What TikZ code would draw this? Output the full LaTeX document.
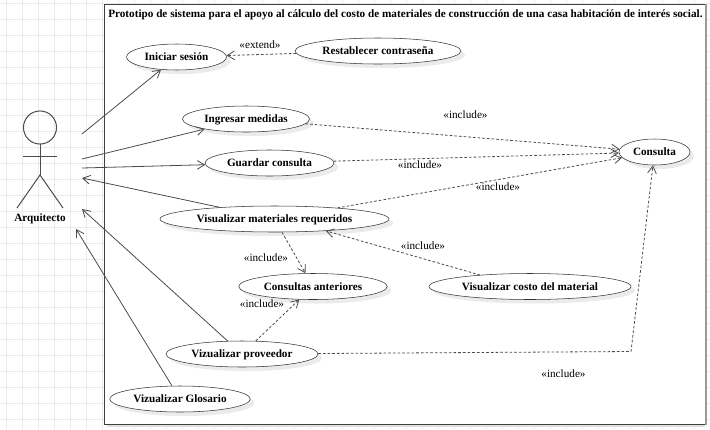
\documentclass[tikz,border=0pt]{standalone}
\usepackage{fontspec}
\setmainfont{Liberation Serif}
\usetikzlibrary{shapes.geometric,shadows,arrows.meta}
\begin{document}
\begin{tikzpicture}[x=0.75pt,y=-0.75pt,>={Straight Barb[length=5.5pt,width=6.5pt]}]
    \tikzstyle{usecase} = [draw=black!80,ellipse,fill=white,inner sep=0pt,minimum height=19.5pt,text height=6.5pt,text depth=1pt,font=\fontsize{8.4}{10}\selectfont\bfseries,drop shadow={shadow xshift=3pt,shadow yshift=-3pt,fill=black!8,opacity=1}]
    \tikzstyle{stereo} = [inner sep=0pt,font=\fontsize{8.4}{10}\selectfont]
    \tikzstyle{assoc} = [draw=black!70,line width=0.6pt,->]
    \tikzstyle{depend} = [draw=black!70,line width=0.6pt,dash pattern=on 2pt off 1.5pt,->]
        \useasboundingbox (0,0) rectangle (710,429);
        \fill[white] (0,0) rectangle (710,429);
        \foreach \gx in {6.5,22.5,...,710} {\draw[black!8,line width=0.75pt] (\gx,0) -- (\gx,429);}
        \foreach \gy in {3,19,...,429} {\draw[black!8,line width=0.75pt] (0,\gy) -- (710,\gy);}
        \fill[black!12] (107,424) rectangle (705,426.5);
        \draw[white,fill=white] (104.5,4.5) rectangle (705,424);
        \draw[black!75,line width=0.75pt] (705,424) -- (104.5,424) -- (104.5,4.5) -- (705,4.5);
        \draw[black!40,line width=1.5pt] (705.5,4) -- (705.5,424.5);
        \node[inner sep=0pt,anchor=west,font=\fontsize{8.4}{10}\selectfont\bfseries] (title) at (108,14.5) {Prototipo de sistema para el apoyo al cálculo del costo de materiales de construcción de una casa habitación de interés social.};
        \draw[black!70,line width=0.75pt] (40,127.5) circle (12.4pt);
        \draw[black!70,line width=0.75pt] (40,144) -- (40,175);
        \draw[black!70,line width=0.75pt] (23,156) -- (57,156);
        \draw[black!70,line width=0.75pt] (17,208) -- (40,175) -- (63,208);
        \node[inner sep=0pt,font=\fontsize{8.4}{10}\selectfont\bfseries] (arquitecto) at (40,219) {Arquitecto};
        \coordinate (a1) at (82,134);
        \coordinate (a2) at (82,159);
        \coordinate (a3) at (82,168);
        \coordinate (a4) at (82,178);
        \coordinate (a5) at (82,209);
        \coordinate (a6) at (76,229);
        \coordinate (bend) at (631,351.5);
        \node[usecase,minimum width=75pt] (iniciar) at (176.5,57) {Iniciar sesión};
        \node[usecase,minimum width=124.5pt] (restablecer) at (378,51) {Restablecer contraseña};
        \node[usecase,minimum width=95.25pt] (ingresar) at (246,119) {Ingresar medidas};
        \node[usecase,minimum width=96.75pt] (guardar) at (269.5,163) {Guardar consulta};
        \node[usecase,minimum width=171.75pt] (materiales) at (274.5,219) {Visualizar materiales requeridos};
        \node[usecase,minimum width=111.4pt] (anteriores) at (313,286.5) {Consultas anteriores};
        \node[usecase,minimum width=151.5pt] (costo) at (530,286.5) {Visualizar costo del material};
        \node[usecase,minimum width=114pt] (proveedor) at (242,354) {Vizualizar proveedor};
        \node[usecase,minimum width=105.4pt] (glosario) at (180,399) {Vizualizar Glosario};
        \node[usecase,minimum width=53.25pt] (consulta) at (654.5,152) {Consulta};
        \draw[assoc] (a1) -- (iniciar);
        \draw[assoc] (a2) -- (ingresar);
        \draw[assoc] (a3) -- (guardar);
        \draw[assoc] (materiales) -- (a4);
        \draw[assoc] (proveedor) -- (a5);
        \draw[assoc] (glosario) -- (a6);
        \draw[depend] (restablecer) -- (iniciar);
        \draw[depend] (ingresar) -- (consulta);
        \draw[depend] (guardar) -- (consulta);
        \draw[depend] (materiales) -- (consulta);
        \draw[depend] (materiales) -- (anteriores);
        \draw[depend] (proveedor) -- (anteriores);
        \draw[depend] (costo.167) -- (materiales.-13);
        \draw[depend] (proveedor) -- (bend) -- (consulta);
        \node[stereo] (extend1) at (260,44.5) {«extend»};
        \node[stereo] (include1) at (465.5,115) {«include»};
        \node[stereo] (include2) at (420,164.5) {«include»};
        \node[stereo] (include3) at (498,187) {«include»};
        \node[stereo] (include4) at (266,257.5) {«include»};
        \node[stereo] (include5) at (262,303.5) {«include»};
        \node[stereo] (include6) at (423,245.5) {«include»};
        \node[stereo] (include7) at (563.5,373.5) {«include»};
    \end{tikzpicture}
\end{document}
